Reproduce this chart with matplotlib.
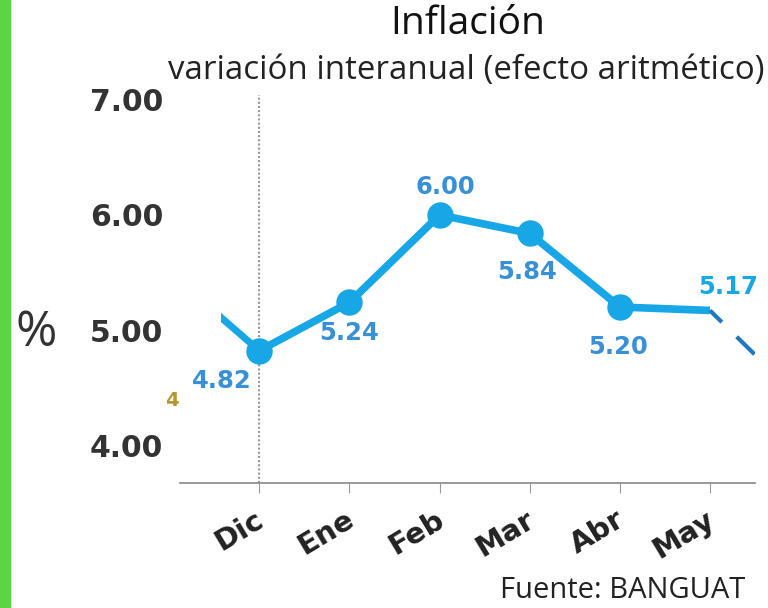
import numpy as np
import matplotlib.pyplot as plt
from matplotlib.patches import Rectangle
from matplotlib.transforms import ScaledTranslation

# datos: inflacion interanual (%)
meses = ['Dic', 'Ene', 'Feb', 'Mar', 'Abr', 'May']
inflacion = [4.82, 5.24, 6.00, 5.84, 5.20, 5.17]
etiquetas = ['4.82', '5.24', '6.00', '5.84', '5.20', '5.17']
# meses vecinos, solo se ve un trozo de la linea
nov_valor = 5.50
jun_valor = 4.40
yticks = [4.00, 5.00, 6.00, 7.00]

azul = '#17a6e6'
azul_txt = '#3790d8'

fig = plt.figure(figsize=(7.68, 6.08), dpi=100)
ax = fig.add_axes([180/768, 1-483/608, (755-180)/768, (483-95)/608])

x = np.arange(len(meses))
ax.set_xlim(-0.88, 5.5)
ax.set_ylim(3.67, 7.043)

# linea principal
ax.plot(x[:5], inflacion[:5], color=azul, lw=5.5, marker='o', ms=18,
        solid_joinstyle='round', zorder=3)
ax.plot(x[4:], inflacion[4:], color=azul, lw=5.5, solid_capstyle='butt', zorder=3)

# tramo desde noviembre (recortado)
seg, = ax.plot([-1, 0], [nov_valor, inflacion[0]], color=azul, lw=5, zorder=3)
clip = Rectangle((-0.43, 3.67), 1.0, 4, transform=ax.transData)
seg.set_clip_path(clip)
# tramo hacia junio, discontinuo
ax.plot([5, 6], [inflacion[5], jun_valor], color='#1f78c1', lw=3,
        linestyle=(0, (4, 5, 6, 5)), solid_capstyle='round', zorder=3)

# linea punteada en diciembre
ax.axvline(0, color='#999999', lw=1.5, linestyle=(0, (1, 1)), zorder=1)

offs = [(-27, -22), (0, -22), (4, 20), (-2, -28), (-1, -29), (13, 17)]
for i, (v, t) in enumerate(zip(inflacion, etiquetas)):
    col = azul if i == 5 else azul_txt
    ax.annotate(t, (x[i], v), xytext=offs[i], textcoords='offset points',
                ha='center', va='center', fontsize=17.5, fontweight='bold',
                color=col, zorder=4)

ax.set_yticks(yticks)
ax.set_yticklabels(['%.2f' % t for t in yticks], fontsize=21.5,
                   fontweight='bold', color='#333333')
ax.set_xticks(x)
ax.set_xticklabels(meses, rotation=31, ha='right', rotation_mode='anchor',
                   fontsize=21, fontweight='bold', color='#222222')
ax.tick_params(axis='y', length=0, pad=12)
ax.tick_params(axis='x', length=7, color='#999999', pad=9)
desp = ScaledTranslation(-5/100, 0, fig.dpi_scale_trans)
for lbl in ax.get_xticklabels():
    lbl.set_transform(lbl.get_transform() + desp)
for s in ['top', 'right', 'left']:
    ax.spines[s].set_visible(False)
ax.spines['bottom'].set_color('#888888')
ax.spines['bottom'].set_linewidth(1.2)

# textos de la figura
fig.text(468/768, 1-24/608, 'Inflación', ha='center', va='center',
         fontsize=28, family='Open Sans', color='#111111')
fig.text(466/768, 1-70/608, 'variación interanual (efecto aritmético)',
         ha='center', va='center', fontsize=23.8, family='Open Sans', color='#222222')
fig.text(36/768, 1-333/608, '%', ha='center', va='center', fontsize=36,
         family='Open Sans', color='#333333')
fig.text(172/768, 1-400/608, '4', ha='center', va='center', fontsize=14,
         fontweight='bold', color='#b8962e')
fig.text(745/768, 1-590/608, 'Fuente: BANGUAT', ha='right', va='center',
         fontsize=21, family='Open Sans', color='#222222')

# barra verde a la izquierda
fig.patches.append(Rectangle((0, 0), 10/768, 1, transform=fig.transFigure,
                             color='#5ad543', zorder=0))

fig.savefig('out.png', dpi=100)
